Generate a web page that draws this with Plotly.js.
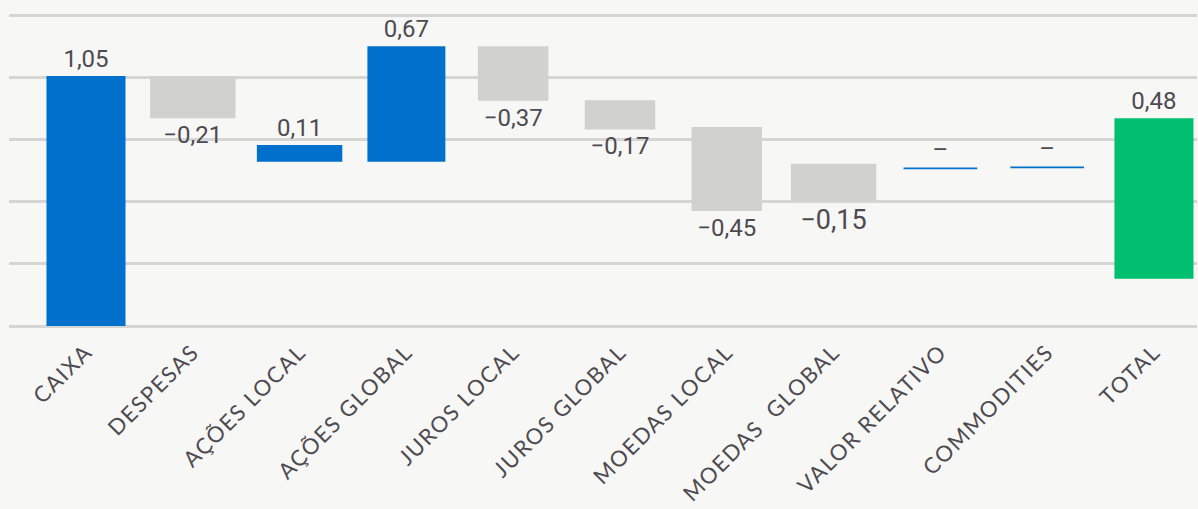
<!DOCTYPE html>
<html>
<head>
<meta charset="utf-8">
<script src="https://cdn.plot.ly/plotly-3.0.1.min.js"></script>
<style>
  html, body { margin: 0; padding: 0; background: #F7F7F5; }
  #chart { width: 1198px; height: 509px; }
  .xtick text { letter-spacing: 1.5px; }
</style>
</head>
<body>
<div id="chart"></div>
<script>
// Categories (x axis)
const categories = ['CAIXA', 'DESPESAS', 'AÇÕES LOCAL', 'AÇÕES GLOBAL', 'JUROS LOCAL', 'JUROS GLOBAL',
  'MOEDAS LOCAL', 'MOEDAS\u00a0 GLOBAL', 'VALOR RELATIVO', 'COMMODITIES', 'TOTAL'];
// Printed value labels
const valueLabels = ['1,05', '\u22120,21', '0,11', '0,67', '\u22120,37', '\u22120,17', '\u22120,45', '\u22120,15', '–', '–', '0,48'];
// Bar start / end (in gridline units, gridlines every 1)
const barStart = [0.00, 4.02, 2.64, 2.64, 4.50, 3.63, 3.20, 2.61, 2.52, 2.535, 0.76];
const barEnd   = [4.02, 3.34, 2.91, 4.50, 3.62, 3.16, 1.85, 2.01, 2.55, 2.565, 3.34];
// Bar kind: 'pos', 'neg', 'total'
const barKind  = ['pos', 'neg', 'pos', 'pos', 'neg', 'neg', 'neg', 'neg', 'pos', 'pos', 'total'];

// Styles
const kindColor = { pos: '#0070CD', neg: '#D1D1CF', total: '#00BF6F' };
const barWidths = [0.74, 0.80, 0.80, 0.73, 0.66, 0.66, 0.66, 0.80, 0.69, 0.69, 0.74];
const labelSizes = [24, 24, 24, 24, 24, 24, 24, 27, 24, 24, 24];
const textColor = '#4E4A51';

const deltas = barStart.map((s, i) => barEnd[i] - s);

const trace = {
  type: 'bar',
  x: categories,
  y: deltas,
  base: barStart,
  width: barWidths,
  marker: { color: barKind.map(k => kindColor[k]), line: { width: 0 } },
  text: valueLabels,
  textposition: 'outside',
  constraintext: 'none',
  cliponaxis: false,
  textfont: { family: 'Roboto, sans-serif', size: labelSizes, color: textColor },
  hoverinfo: 'skip'
};

const layout = {
  width: 1198,
  height: 509,
  margin: { l: 9, r: 1, t: 8, b: 179 },
  paper_bgcolor: '#F7F7F5',
  plot_bgcolor: '#F7F7F5',
  showlegend: false,
  xaxis: {
    type: 'category',
    range: [-0.721, 10.403],
    tickangle: -45,
    ticklabelstandoff: 4,
    showgrid: false,
    zeroline: false,
    showline: false,
    ticks: '',
    tickfont: { family: 'Lato, sans-serif', size: 22, color: textColor }
  },
  yaxis: {
    range: [-0.0643, 5.113],
    tick0: 0,
    dtick: 1,
    showticklabels: false,
    showgrid: true,
    gridcolor: '#D5D5D3',
    gridwidth: 3,
    zeroline: false,
    showline: false,
    ticks: ''
  },
  hovermode: false
};

Plotly.newPlot('chart', [trace], layout, { displayModeBar: false, staticPlot: true });
</script>
</body>
</html>
